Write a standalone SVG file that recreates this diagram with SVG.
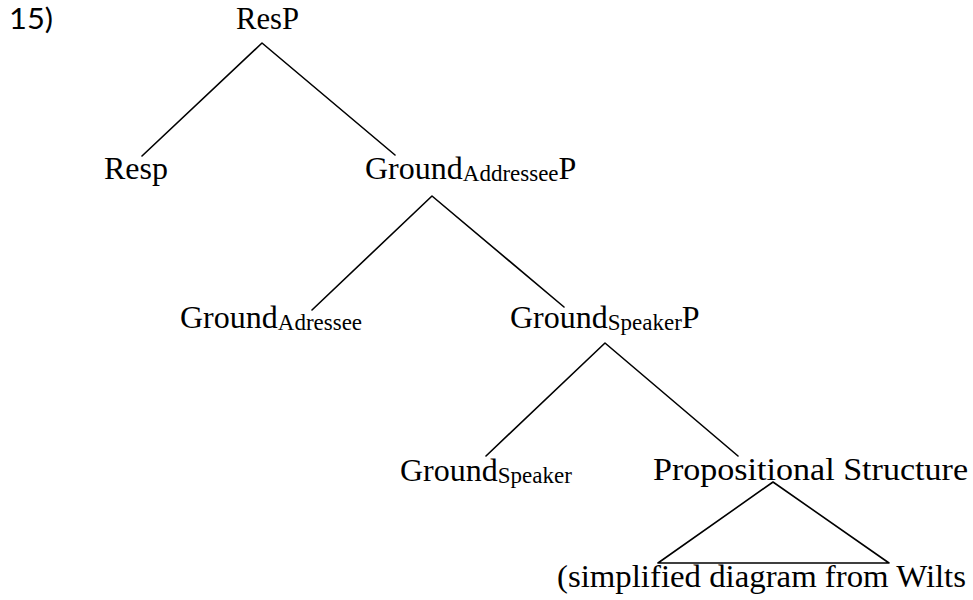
<svg xmlns="http://www.w3.org/2000/svg" width="973" height="600" viewBox="0 0 973 600">
<style>
.t{font-family:"Liberation Serif","DejaVu Serif",serif;font-size:32px;fill:#000}
.s{font-size:23px}
.n{font-family:Lato,"Liberation Sans",sans-serif;font-size:28px;fill:#000}
.e{stroke:#000;stroke-width:1.6;fill:none;stroke-linecap:round;stroke-linejoin:round}
</style>
<rect width="973" height="600" fill="#fff"/>
<g id="number"><text class="n" x="9" y="29" textLength="44" lengthAdjust="spacingAndGlyphs">15)</text></g>
<g id="ResP"><text class="t" x="236" y="29" textLength="63" lengthAdjust="spacingAndGlyphs">ResP</text></g>
<g id="Resp"><text class="t" x="104" y="179">Resp</text></g>
<g id="GroundAddresseeP"><text class="t" x="365" y="178.5">Ground<tspan class="s" dy="2">Addressee</tspan><tspan dy="-2">P</tspan></text></g>
<g id="GroundAdressee"><text class="t" x="180" y="328">Ground<tspan class="s" dy="2">Adressee</tspan></text></g>
<g id="GroundSpeakerP"><text class="t" x="510" y="328">Ground<tspan class="s" dy="2">Speaker</tspan><tspan dy="-2">P</tspan></text></g>
<g id="GroundSpeaker"><text class="t" x="400" y="481">Ground<tspan class="s" dy="2">Speaker</tspan></text></g>
<g id="PropositionalStructure"><text class="t" x="653" y="480" textLength="315" lengthAdjust="spacingAndGlyphs">Propositional Structure</text></g>
<g id="Source"><text class="t" x="557" y="587" textLength="409" lengthAdjust="spacingAndGlyphs">(simplified diagram from Wilts</text></g>
<g id="connectors">
<path class="e" d="M142,156 L262,43 L395,155"/>
<path class="e" d="M312,310 L432,196 L564,307"/>
<path class="e" d="M486,456 L605,343 L738,456"/>
<path class="e" d="M773,482 L658,563 L889,563 Z"/>
</g>
</svg>
